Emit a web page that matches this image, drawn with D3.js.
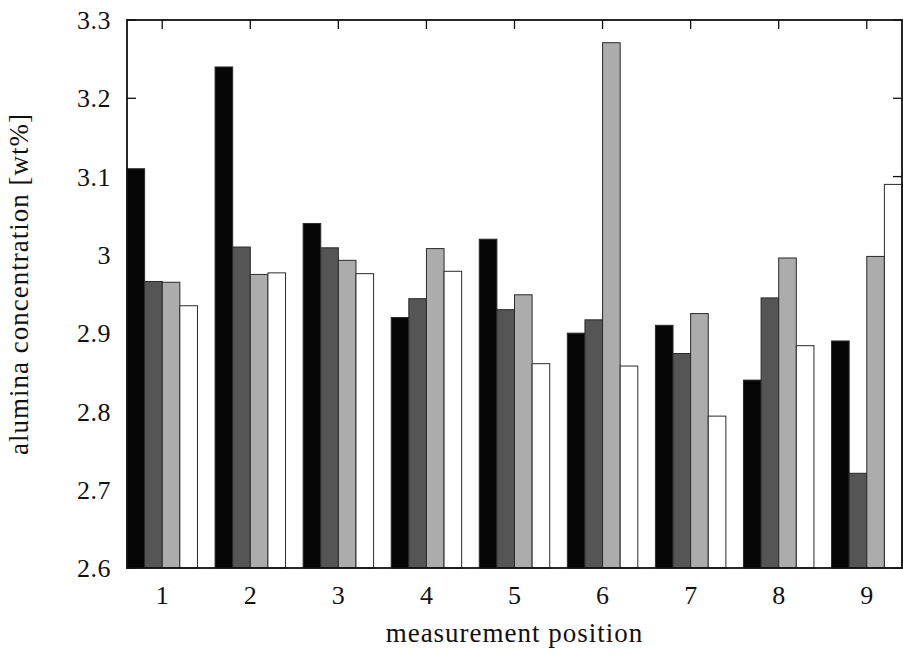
<!DOCTYPE html>
<html>
<head>
<meta charset="utf-8">
<script src="https://cdn.jsdelivr.net/npm/d3@7"></script>
<style>
  body { margin: 0; background: #fff; }
  svg text { font-family: "Liberation Serif", "DejaVu Serif", serif; fill: #111; }
</style>
</head>
<body>
<svg id="chart" width="903" height="655"></svg>
<script>
// measurement positions
var positions = [1, 2, 3, 4, 5, 6, 7, 8, 9];

// four series per position (black, dark gray, light gray, white)
var series1 = [3.11, 3.24, 3.04, 2.92, 3.02, 2.90, 2.91, 2.84, 2.89];
var series2 = [2.966, 3.010, 3.009, 2.944, 2.930, 2.917, 2.874, 2.945, 2.721];
var series3 = [2.965, 2.975, 2.993, 3.008, 2.949, 3.271, 2.925, 2.996, 2.998];
var series4 = [2.935, 2.977, 2.976, 2.979, 2.861, 2.858, 2.794, 2.884, 3.090];

var seriesFill = ["#060606", "#555555", "#acacac", "#ffffff"];

var yTicks = [2.6, 2.7, 2.8, 2.9, 3.0, 3.1, 3.2, 3.3];

var allSeries = [series1, series2, series3, series4];

var margin = { left: 127, right: 1, top: 20, bottom: 87 };
var width = 903, height = 655;
var svg = d3.select("#chart");

// x in histogram units: group i sits at i, bars 0.2 wide, one bar gap
var x = d3.scaleLinear()
    .domain([-0.4, positions.length - 1 + 0.4])
    .range([margin.left, width - margin.right]);

var y = d3.scaleLinear()
    .domain([2.6, 3.3])
    .range([height - margin.bottom, margin.top]);

var tickLen = 9;
var fmt = function(v) { return String(+v.toFixed(1)); };

// ticks (drawn under bars, like the original)
var ticks = svg.append("g").attr("stroke", "#111").attr("stroke-width", 1.3);
yTicks.forEach(function(v) {
    ticks.append("line")
        .attr("x1", x.range()[0]).attr("x2", x.range()[0] + tickLen)
        .attr("y1", y(v)).attr("y2", y(v));
    ticks.append("line")
        .attr("x1", x.range()[1]).attr("x2", x.range()[1] - tickLen)
        .attr("y1", y(v)).attr("y2", y(v));
});
positions.forEach(function(p, i) {
    ticks.append("line")
        .attr("x1", x(i)).attr("x2", x(i))
        .attr("y1", y.range()[1]).attr("y2", y.range()[1] + tickLen);
    ticks.append("line")
        .attr("x1", x(i)).attr("x2", x(i))
        .attr("y1", y.range()[0]).attr("y2", y.range()[0] - tickLen);
});

// bars
var barW = 0.2;
var bars = [];
allSeries.forEach(function(s, j) {
    s.forEach(function(v, i) {
        bars.push({ group: i, series: j, value: v });
    });
});

svg.append("g")
    .selectAll("rect")
    .data(bars)
    .enter()
    .append("rect")
        .attr("x", function(d) { return x(d.group + (d.series - 2) * barW); })
        .attr("width", function(d) { return x(barW) - x(0); })
        .attr("y", function(d) { return y(d.value); })
        .attr("height", function(d) { return y(2.6) - y(d.value); })
        .attr("fill", function(d) { return seriesFill[d.series]; })
        .attr("stroke", "#2a2a2a")
        .attr("stroke-width", 1);

// border
svg.append("rect")
    .attr("x", x.range()[0])
    .attr("y", y.range()[1])
    .attr("width", x.range()[1] - x.range()[0])
    .attr("height", y.range()[0] - y.range()[1])
    .attr("fill", "none")
    .attr("stroke", "#111")
    .attr("stroke-width", 1.8);

// y tick labels
svg.append("g")
    .selectAll("text")
    .data(yTicks)
    .enter()
    .append("text")
        .attr("x", 111)
        .attr("y", function(d) { return y(d); })
        .attr("dy", "0.35em")
        .attr("text-anchor", "end")
        .style("font-size", "26px")
        .style("letter-spacing", "0.5px")
        .text(fmt);

// x tick labels
svg.append("g")
    .selectAll("text")
    .data(positions)
    .enter()
    .append("text")
        .attr("x", function(d, i) { return x(i); })
        .attr("y", 604)
        .attr("text-anchor", "middle")
        .style("font-size", "26px")
        .text(function(d) { return d; });

// axis titles
svg.append("text")
    .attr("x", (x.range()[0] + x.range()[1]) / 2)
    .attr("y", 642)
    .attr("text-anchor", "middle")
    .style("font-size", "27px")
    .style("letter-spacing", "1px")
    .text("measurement position");

svg.append("text")
    .attr("transform", "translate(28,284) rotate(-90)")
    .attr("text-anchor", "middle")
    .style("font-size", "27px")
    .style("letter-spacing", "1px")
    .text("alumina concentration [wt%]");
</script>
</body>
</html>
